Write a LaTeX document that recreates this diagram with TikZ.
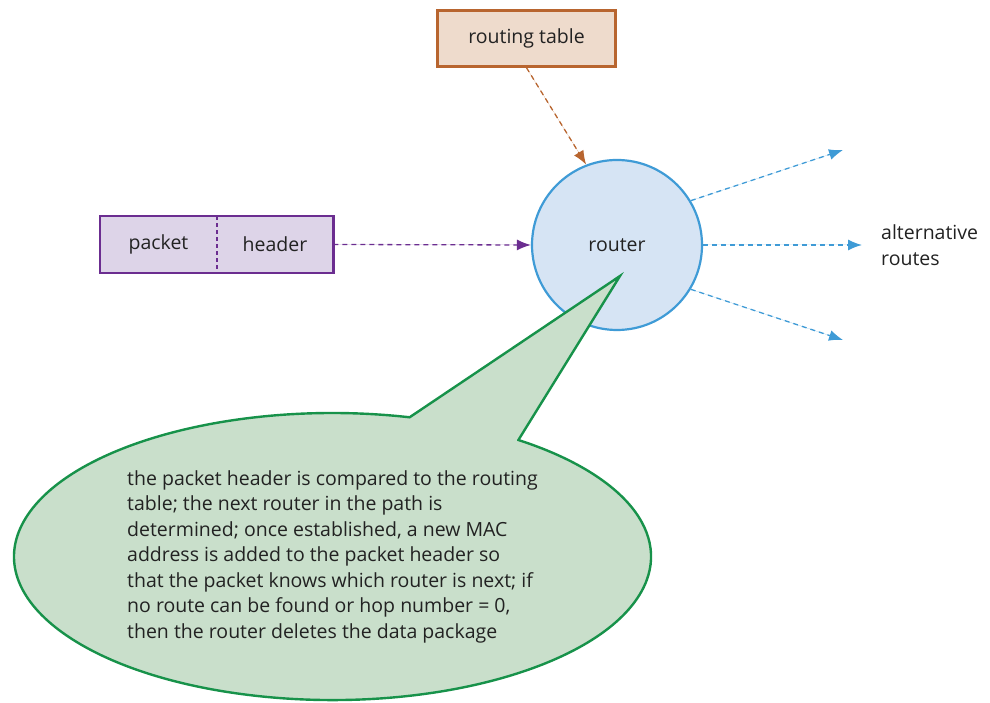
\documentclass[tikz,border=0pt]{standalone}
\usepackage{fontspec}
\setmainfont{Open Sans}
\usetikzlibrary{arrows.meta}
\definecolor{rtborder}{HTML}{B8652F}
\definecolor{rtfill}{HTML}{EEDBCC}
\definecolor{pkborder}{HTML}{6B2D90}
\definecolor{pkfill}{HTML}{DDD4E8}
\definecolor{roborder}{HTML}{3F9BD6}
\definecolor{rofill}{HTML}{D6E4F4}
\definecolor{clborder}{HTML}{17924A}
\definecolor{clfill}{HTML}{C9DFCB}
\definecolor{txt}{HTML}{222222}
\tikzset{
  lbl/.style={font=\fontsize{19.5}{25.5}\selectfont, text=txt},
  rtbox/.style={lbl, draw=rtborder, fill=rtfill, line width=2.5pt, minimum width=178pt, minimum height=56pt, inner sep=0pt},
  pkcell/.style={lbl, fill=pkfill, minimum width=116.5pt, minimum height=56.5pt, inner sep=0pt},
  routerc/.style={lbl, circle, draw=roborder, fill=rofill, line width=2.2pt, minimum size=170pt, inner sep=0pt},
  dasharrow/.style={dash pattern=on 5pt off 4pt, line width=1.3pt, -{Latex[length=14pt,width=11pt]}},
}
\begin{document}
\begin{tikzpicture}[x=1pt,y=1pt]
\useasboundingbox (0,0) rectangle (990,703);
% router
\node[routerc] (router) at (617,458) {router};
% callout
\draw[draw=clborder, fill=clfill, line width=2.4pt, line join=miter]
  (518.4,263.0) -- (620,427) -- (409.6,285.7)
  arc[start angle=76, end angle=414.3, x radius=318.5, y radius=143.5] -- cycle;
\node[lbl, anchor=west, align=left, inner sep=0pt] (expl) at (127,146.5) {the packet header is compared to the routing\\table; the next router in the path is\\determined; once established, a new MAC\\address is added to the packet header so\\that the packet knows which router is next; if\\no route can be found or hop number = 0,\\then the router deletes the data package};
% routing table
\node[rtbox] (rt) at (526.5,664.5) {routing table};
% packet
\node[pkcell] (pk) at (158.5,458.5) {packet};
\node[pkcell] (hd) at (275,458.5) {header};
\draw[pkborder, line width=1.3pt, dash pattern=on 4pt off 3pt] (pk.north east) -- (pk.south east);
\draw[pkborder, line width=2.5pt] (pk.north west) rectangle (hd.south east);
% arrows
\draw[dasharrow, draw=pkborder, fill=pkborder] (hd.east) -- (router.west);
\draw[dasharrow, draw=rtborder, fill=rtborder] (rt.south) -- (router.111);
\coordinate (r1) at (843,553);
\coordinate (r2) at (862,458);
\coordinate (r3) at (843,363);
\draw[dasharrow, draw=roborder, fill=roborder] (router.31) -- (r1);
\draw[dasharrow, draw=roborder, fill=roborder] (router.east) -- (r2);
\draw[dasharrow, draw=roborder, fill=roborder] (router.-31) -- (r3);
\node[lbl, anchor=west, align=left, inner sep=0pt] (alt) at (881,458) {alternative\\routes};
\end{tikzpicture}
\end{document}
